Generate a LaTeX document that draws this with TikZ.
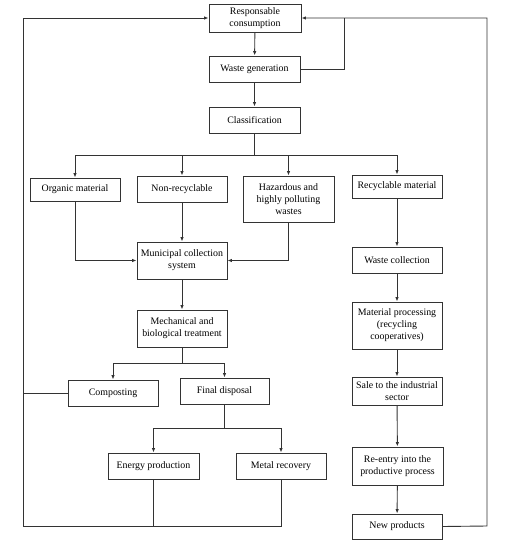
\documentclass[tikz,border=0pt]{standalone}
\usepackage{fontspec}
\setmainfont{Liberation Serif}
\usetikzlibrary{arrows.meta}
\begin{document}
\begin{tikzpicture}[x=1pt,y=-1pt,
  box/.style={draw=black!80,line width=0.9pt,rectangle,inner sep=1pt,align=center,
    font=\fontsize{9.9}{12}\selectfont},
  conn/.style={draw=black!80,line width=0.9pt},
  arr/.style={conn,-{Latex[length=4.5pt,width=3.5pt]}}]
\useasboundingbox (0,0) rectangle (507,550);
\node[box,minimum width=92pt,minimum height=28pt] (rc) at (255,18) {Responsable\\consumption};
\node[box,minimum width=91pt,minimum height=26pt] (wg) at (254.5,69) {Waste generation};
\node[box,minimum width=91pt,minimum height=26pt] (cl) at (254.5,120) {Classification};
\node[box,minimum width=90pt,minimum height=23pt] (om) at (75,189.5) {Organic material};
\node[box,minimum width=90pt,minimum height=26pt] (nr) at (182,189) {Non-recyclable};
\node[box,minimum width=91pt,minimum height=46pt] (hz) at (288.5,199) {Hazardous and\\highly polluting\\wastes};
\node[box,minimum width=90pt,minimum height=23pt] (rm) at (397,186.5) {Recyclable material};
\node[box,minimum width=90pt,minimum height=37pt] (mc) at (182,260.5) {Municipal collection\\system};
\node[box,minimum width=90pt,minimum height=26pt] (wc) at (397,260) {Waste collection};
\node[box,minimum width=90pt,minimum height=37pt] (mb) at (182,328.5) {Mechanical and\\biological treatment};
\node[box,minimum width=90pt,minimum height=47pt] (mp) at (397,325.5) {Material processing\\(recycling\\cooperatives)};
\node[box,minimum width=90pt,minimum height=26pt] (co) at (113,393) {Composting};
\node[box,minimum width=89pt,minimum height=26pt] (fd) at (224.5,391) {Final disposal};
\node[box,minimum width=90pt,minimum height=28pt] (sa) at (397,391) {Sale to the industrial\\sector};
\node[box,minimum width=91pt,minimum height=26pt] (en) at (153.5,466) {Energy production};
\node[box,minimum width=90pt,minimum height=26pt] (me) at (281,466) {Metal recovery};
\node[box,minimum width=91pt,minimum height=38pt] (re) at (397.5,466) {Re-entry into the\\productive process};
\node[box,minimum width=90pt,minimum height=25pt] (np) at (397,526.5) {New products};
\coordinate (s1) at (254.5,155);
\coordinate (s2) at (182,363);
\coordinate (s3) at (224.5,428);
\coordinate (bl) at (23,526);
\coordinate (br) at (487,526);
\coordinate (wgr) at (344,69);
% main flow
\draw[arr] (rc) -- (wg);
\draw[arr] (wg) -- (cl);
\draw[conn] (cl.south) -- (s1);
\draw[arr] (s1) -| (om.north);
\draw[arr] (s1) -| (nr.north);
\draw[arr] (s1) -| (hz.north);
\draw[arr] (s1) -| (rm.north);
\draw[arr] (om.south) |- (mc.west);
\draw[arr] (hz.south) |- (mc.east);
\draw[arr] (nr) -- (mc);
\draw[arr] (mc) -- (mb);
\draw[conn] (mb.south) -- (s2);
\draw[arr] (s2) -| (co.north);
\draw[arr] (s2) -| (fd.north);
\draw[conn] (fd.south) -- (s3);
\draw[arr] (s3) -| (en.north);
\draw[arr] (s3) -| (me.north);
% left loop
\draw[arr] (me.south) |- (bl) |- (rc.west);
\draw[conn] (en.south) -- (en.south |- bl);
\draw[conn] (co.west) -- (co.west -| bl);
% right column
\draw[arr] (rm) -- (wc);
\draw[arr] (wc) -- (mp);
\draw[arr] (mp) -- (sa);
\draw[arr] (sa) -- (re);
\draw[arr] (re) -- (np);
\draw[arr] (np.east) -- (br) |- (rc.east);
\draw[conn] (wg.east) -- (wgr) -- (wgr |- rc.east);
\end{tikzpicture}
\end{document}
